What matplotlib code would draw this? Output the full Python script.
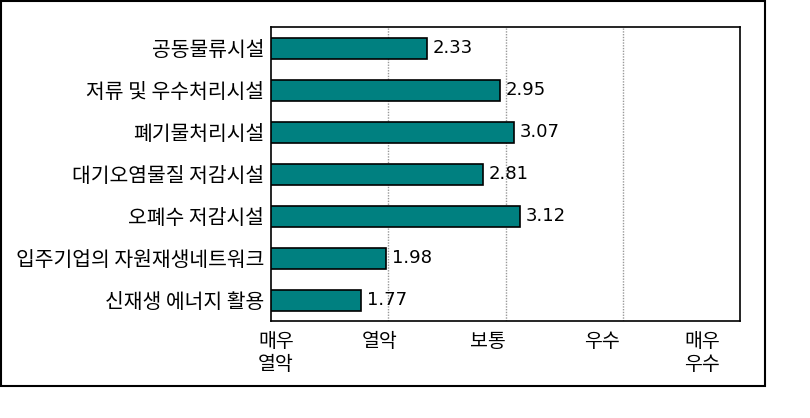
import matplotlib
matplotlib.use("Agg")
import matplotlib.pyplot as plt
from matplotlib.patches import Rectangle
from matplotlib.transforms import ScaledTranslation

plt.rcParams['font.family'] = ['Noto Sans CJK KR', 'DejaVu Sans']

categories = ['공동물류시설', '저류 및 우수처리시설', '폐기물처리시설', '대기오염물질 저감시설',
              '오폐수 저감시설', '입주기업의 자원재생네트워크', '신재생 에너지 활용']
values = [2.33, 2.95, 3.07, 2.81, 3.12, 1.98, 1.77]
tick_values = [1, 2, 3, 4, 5]
tick_labels = ['매우\n열악', '열악', '보통', '우수', '매우\n우수']

W, H = 810, 418
fig = plt.figure(figsize=(W / 100, H / 100), dpi=100)
ax = fig.add_axes([271 / W, 1 - 321 / H, (740 - 271) / W, (321 - 27) / H])

y = list(range(len(categories)))
base = 1
ax.barh(y, [v - base for v in values], left=base, height=0.5, color='#008080',
        edgecolor='black', linewidth=1.2, zorder=3)
for yi, v in zip(y, values):
    ax.text(v + 0.05, yi, f'{v:.2f}', va='center', ha='left', fontsize=13,
            family=['DejaVu Sans'], zorder=4)

ax.set_xlim(1, 5)
ax.set_ylim(len(categories) - 0.5, -0.5)
ax.set_yticks(y)
ax.set_yticklabels(categories, fontsize=14.7)
ax.set_xticks(tick_values)
ax.set_xticklabels(tick_labels, fontsize=14, linespacing=1.15, va='top')
ax.tick_params(axis='both', length=0, pad=5)
ax.tick_params(axis='x', pad=7)
label_shift_px = [5, -9, -18, -21, -38]
for lab, dx in zip(ax.get_xticklabels(), label_shift_px):
    lab.set_transform(lab.get_transform() + ScaledTranslation(dx / 100, 0, fig.dpi_scale_trans))
for xv in tick_values[1:-1]:
    ax.axvline(xv, color='#999999', linestyle=(0, (1, 1)), linewidth=1, zorder=1)
for s in ax.spines.values():
    s.set_linewidth(1.2)
    s.set_color('black')

fig.patches.append(Rectangle((1 / W, 1 - 386 / H), (765 - 1) / W, (386 - 1) / H,
                             transform=fig.transFigure, fill=False,
                             edgecolor='black', linewidth=1.5))

fig.savefig('out.png', dpi=100)
